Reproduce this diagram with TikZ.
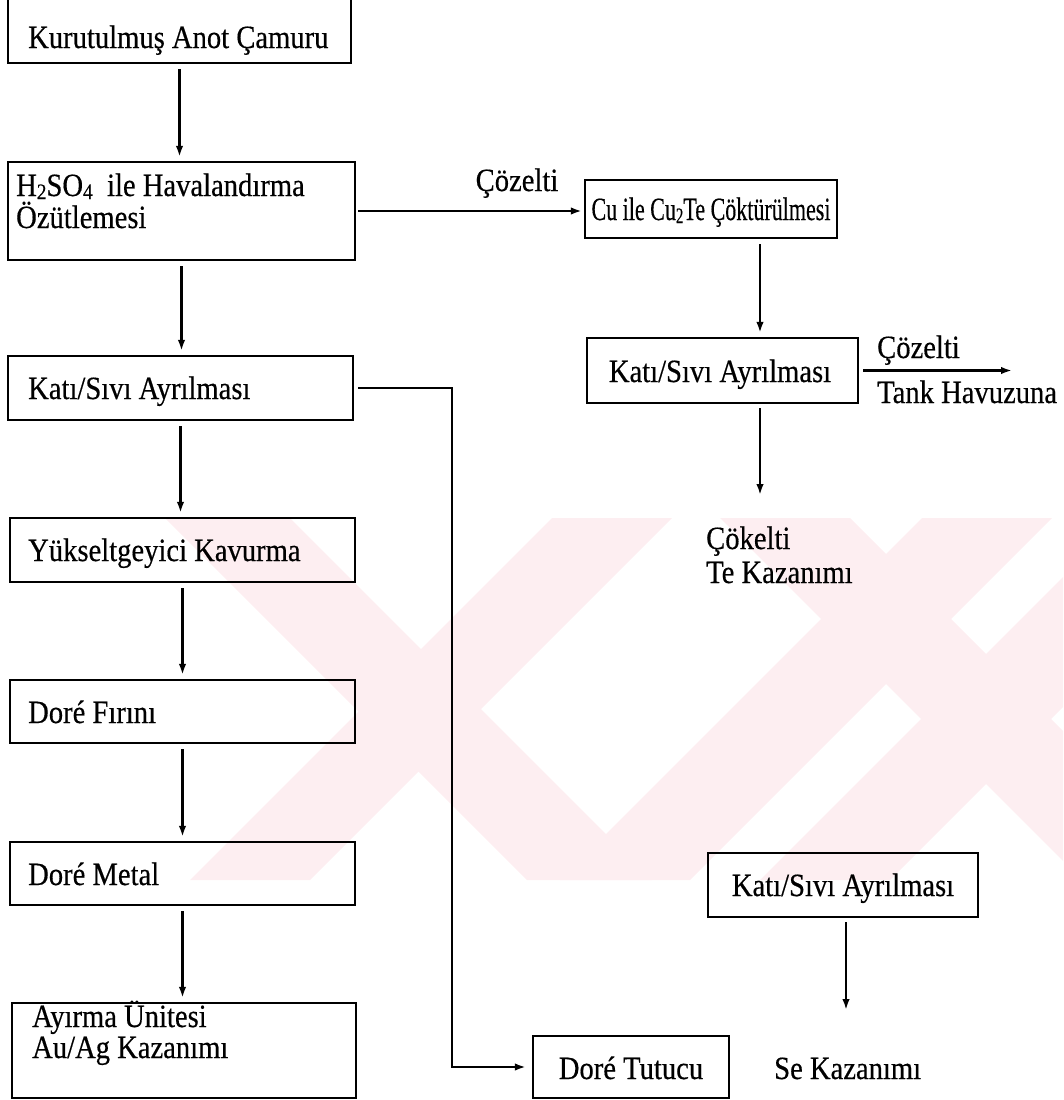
\documentclass[tikz,border=0pt]{standalone}
\usepackage{fontspec}
\setmainfont{Liberation Serif}[FakeStretch=0.88, FakeBold=0.4]
\usepackage{graphicx}
\usetikzlibrary{arrows.meta}
\definecolor{wm}{RGB}{253,238,241}
\newcommand{\lowsub}[1]{\raisebox{-3pt}{\fontsize{22}{22}\selectfont #1}}
\begin{document}
\begin{tikzpicture}[x=1pt,y=-1pt,
  font=\fontsize{32.5}{29}\selectfont,
  box/.style={draw, line width=2.3pt, rectangle, inner sep=0pt},
  txt/.style={inner sep=0pt, anchor=base west},
  mtxt/.style={inner sep=0pt, anchor=base west, align=left},
  ctxt/.style={inner sep=0pt, anchor=base},
  arr/.style={-{Latex[length=11pt,width=7.5pt]}, line width=2.2pt},
  link/.style={arr, shorten <=5pt, shorten >=4pt}]
\useasboundingbox (0,0) rectangle (1063,1100);
% watermark
\begin{scope}
\clip (160,518) rectangle (1063,880);
\fill[wm] (165,518) -- (290,518) -- (652,880) -- (527,880) -- cycle;
\fill[wm] (190,880) -- (310,880) -- (672,518) -- (552,518) -- cycle;
\fill[wm] (560,880) -- (690,880) -- (1052,518) -- (922,518) -- cycle;
\fill[wm] (720,518) -- (850,518) -- (1212,880) -- (1082,880) -- cycle;
\fill[wm] (760,880) -- (890,880) -- (1252,518) -- (1122,518) -- cycle;
\end{scope}
% boxes
\node[box, minimum width=343pt, minimum height=73pt] (n1) at (179.5,26.5) {};
\node[box, minimum width=347pt, minimum height=98pt] (n2) at (181.5,211) {};
\node[box, minimum width=345pt, minimum height=64pt] (lk) at (180.5,388) {};
\node[box, minimum width=345pt, minimum height=64pt] (yk) at (182.5,550) {};
\node[box, minimum width=345pt, minimum height=63pt] (df) at (182.5,711.5) {};
\node[box, minimum width=345pt, minimum height=63pt] (dm) at (182.5,873.5) {};
\node[box, minimum width=344pt, minimum height=95pt] (ay) at (184,1050.5) {};
\node[box, minimum width=252pt, minimum height=58pt] (cu) at (711,209) {};
\node[box, minimum width=271pt, minimum height=65pt] (kr1) at (722.5,370.5) {};
\node[box, minimum width=270pt, minimum height=64pt] (kr2) at (843,885) {};
\node[box, minimum width=196pt, minimum height=62pt] (dt) at (631,1067) {};
% texts
\node[txt] (t1) at (28,48) {Kurutulmuş Anot Çamuru};
\node[mtxt, font=\fontsize{32.5}{32}\selectfont] (t2) at (16,228) {H\lowsub{2}SO\lowsub{4}\ \ ile Havalandırma\\Özütlemesi};
\node[txt] (tlk) at (28,399) {Katı/Sıvı Ayrılması};
\node[txt] (tyk) at (28,561) {Yükseltgeyici Kavurma};
\node[txt] (tdf) at (28,723) {Doré Fırını};
\node[txt] (tdm) at (28,885) {Doré Metal};
\node[mtxt, font=\fontsize{32.5}{31}\selectfont] (tay) at (32,1058) {Ayırma Ünitesi\\Au/Ag Kazanımı};
\node[ctxt] (tcz) at (517,191) {Çözelti};
\node[ctxt] (tcu) at (711,220) {\scalebox{0.77}[1]{Cu ile Cu\lowsub{2}Te Çöktürülmesi}};
\node[ctxt] (tkr1) at (720,382) {Katı/Sıvı Ayrılması};
\node[txt] (tcz2) at (877,358) {Çözelti};
\node[txt] (ttank) at (877,403) {Tank Havuzuna};
\node[mtxt, font=\fontsize{32.5}{34}\selectfont] (tck) at (706,583) {Çökelti\\Te Kazanımı};
\node[ctxt] (tkr2) at (843,896) {Katı/Sıvı Ayrılması};
\node[ctxt] (tdt) at (631,1079) {Doré Tutucu};
\node[txt] (tse) at (774,1079) {Se Kazanımı};
% helper coordinates
\coordinate (xcu) at (760,0);
\coordinate (xv) at (452,0);
\coordinate (tankend) at (1012,370.5);
\coordinate (teend) at (760,495);
\coordinate (seend) at (846,1010);
% connectors
\draw[link] (n1.south) -- (n1.south |- n2.north);
\draw[link] (n2.south) -- (n2.south |- lk.north);
\draw[link] (lk.south) -- (lk.south |- yk.north);
\draw[link] (yk.south) -- (yk.south |- df.north);
\draw[link] (df.south) -- (df.south |- dm.north);
\draw[link] (dm.south) -- (dm.south |- ay.north);
\draw[link, shorten <=2pt, shorten >=2pt] (n2.east) -- (n2.east -| cu.west);
\draw[link] (cu.south -| xcu) -- (kr1.north -| xcu);
\draw[arr, shorten <=4pt] (kr1.south -| xcu) -- (teend);
\draw[arr, shorten <=4pt] (kr1.east) -- (tankend);
\draw[arr, shorten <=4pt] (kr2.south -| seend) -- (seend);
\draw[arr, shorten <=4pt, shorten >=6pt] (lk.east) -- (lk.east -| xv) |- (dt.west);
\end{tikzpicture}
\end{document}
